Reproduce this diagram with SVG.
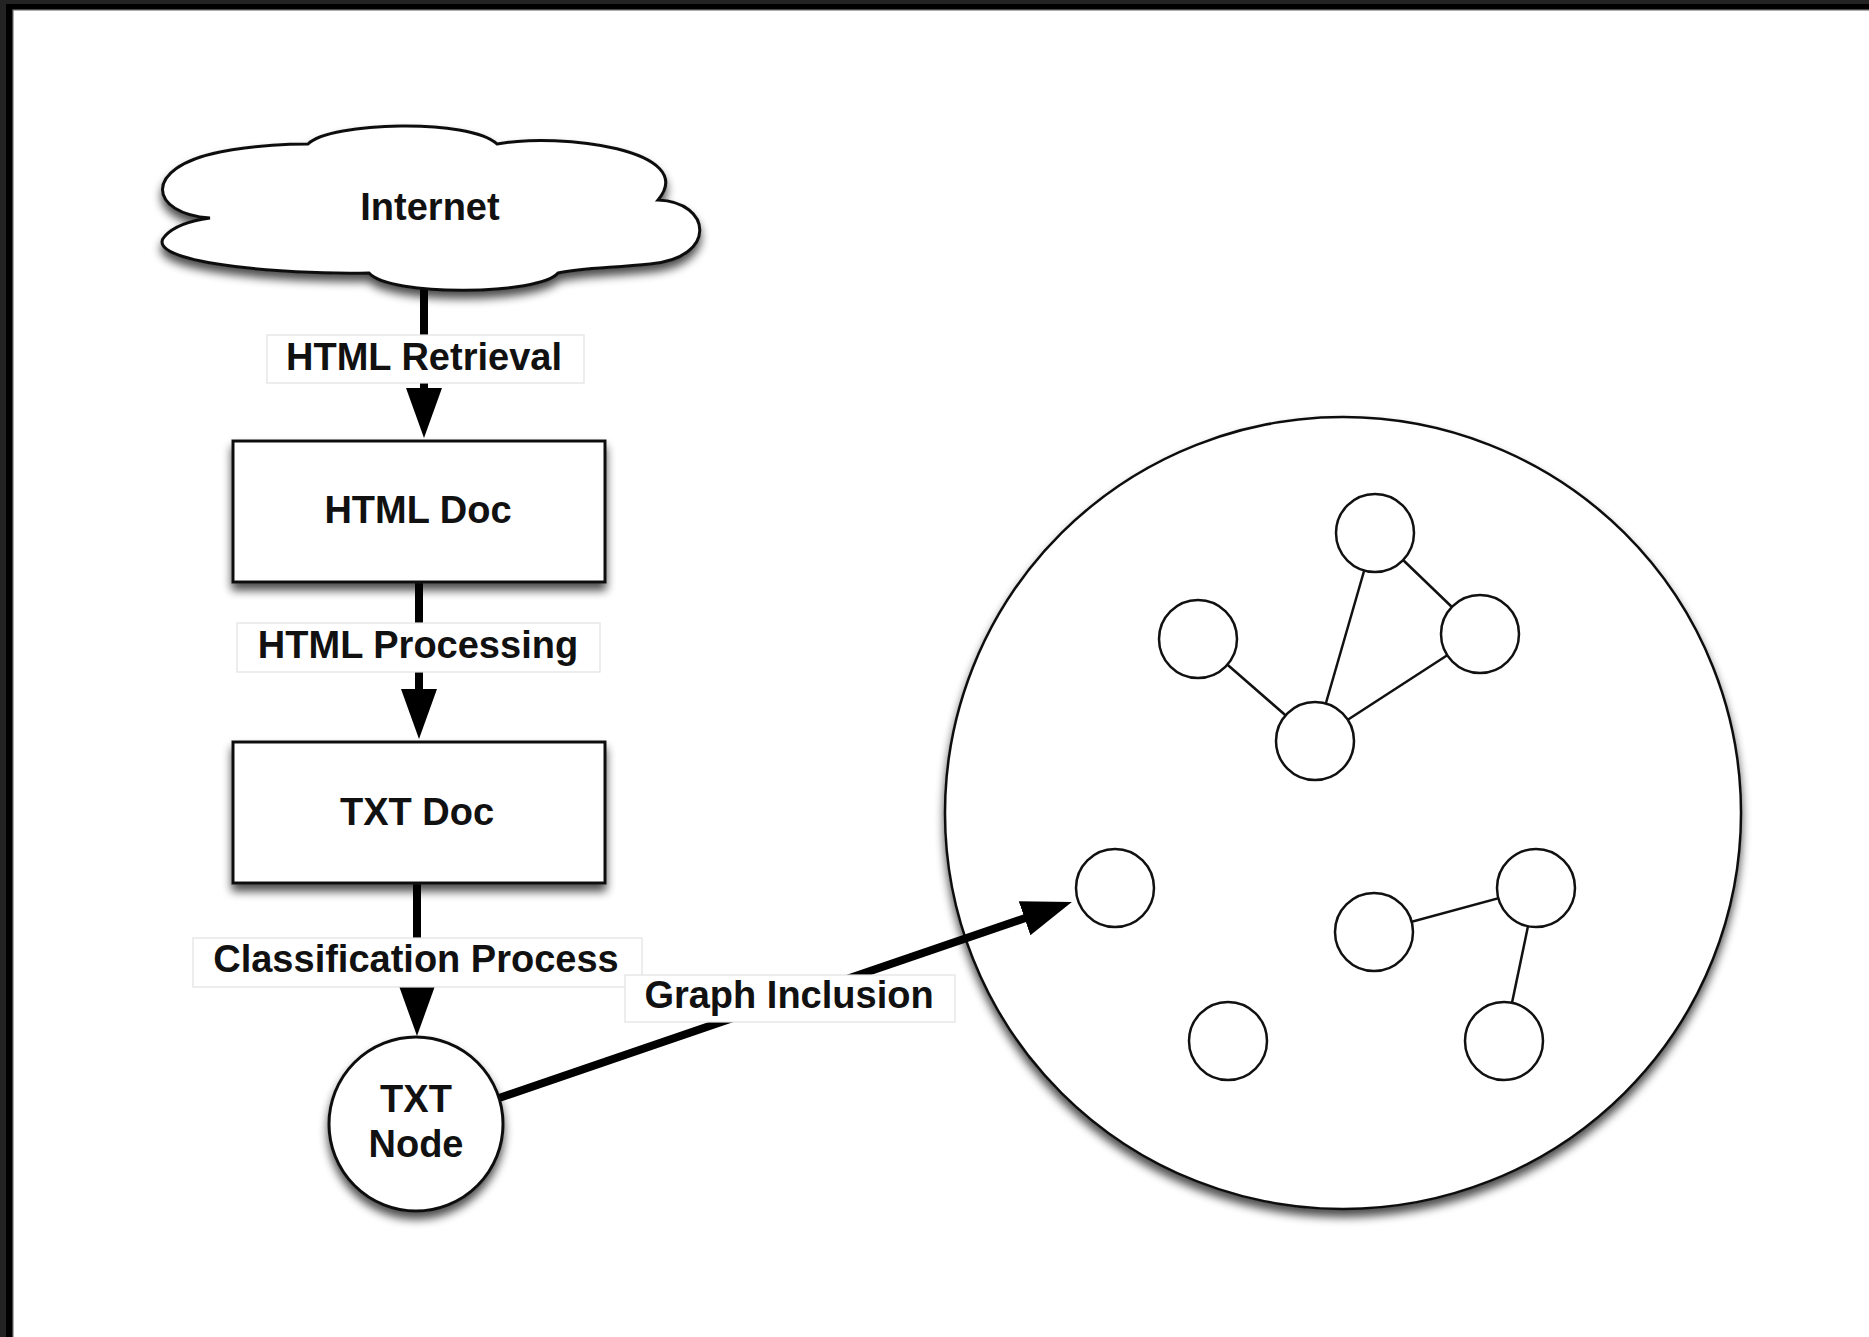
<svg xmlns="http://www.w3.org/2000/svg" width="1869" height="1337" viewBox="0 0 1869 1337">
<defs>
<filter id="sh" x="-20%" y="-20%" width="140%" height="150%">
<feGaussianBlur in="SourceAlpha" stdDeviation="5"/>
<feOffset dx="0" dy="7" result="b"/>
<feComponentTransfer><feFuncA type="linear" slope="0.7"/></feComponentTransfer>
<feMerge><feMergeNode/><feMergeNode in="SourceGraphic"/></feMerge>
</filter>
<marker id="ah" viewBox="0 0 50 36" refX="10" refY="18" markerWidth="50" markerHeight="36" markerUnits="userSpaceOnUse" orient="auto">
<path d="M0 0 L50 18 L0 36 Z" fill="#000"/>
</marker>
</defs>
<style>
.t{font-family:"Liberation Sans",Arial,Helvetica,sans-serif;font-weight:bold;font-size:38px;fill:#111;text-anchor:middle}
.n{fill:#fff;stroke:#111;stroke-width:3}
.s{fill:#fff;stroke:#111;stroke-width:2.5}
.e{stroke:#111;stroke-width:2.5;fill:none}
.c{stroke:#000;stroke-width:8;fill:none}
.lb{fill:#fff;stroke:#e2e2e2;stroke-width:1.2}
</style>
<rect x="0" y="0" width="1869" height="1337" fill="#232323"/>
<rect x="6" y="4" width="1863" height="1333" fill="#000"/>
<rect x="13" y="10" width="1860" height="1330" fill="#fff" stroke="#777" stroke-width="1.2"/>

<g id="graph">
<ellipse cx="1343" cy="813" rx="398" ry="396" class="s" filter="url(#sh)"/>
</g>

<g id="connectors">
<line x1="424" y1="285" x2="424" y2="398" class="c" marker-end="url(#ah)"/>
<line x1="419" y1="582" x2="419" y2="699" class="c" marker-end="url(#ah)"/>
<line x1="417" y1="883" x2="417" y2="996" class="c" marker-end="url(#ah)"/>
<line x1="499" y1="1098" x2="1034" y2="915" class="c" marker-end="url(#ah)"/>
<rect x="267" y="335" width="317" height="48" class="lb"/>
<text x="424" y="370" class="t">HTML Retrieval</text>
<rect x="237" y="623" width="363" height="49" class="lb"/>
<text x="418" y="658" class="t">HTML Processing</text>
<rect x="193" y="938" width="449" height="49" class="lb"/>
<text x="416" y="972" class="t">Classification Process</text>
<rect x="625" y="975" width="330" height="47" class="lb"/>
<text x="789" y="1008" class="t">Graph Inclusion</text>
<line x1="1375" y1="533" x2="1315" y2="741" class="e"/>
<line x1="1375" y1="533" x2="1480" y2="634" class="e"/>
<line x1="1480" y1="634" x2="1315" y2="741" class="e"/>
<line x1="1198" y1="639" x2="1315" y2="741" class="e"/>
<line x1="1374" y1="932" x2="1536" y2="888" class="e"/>
<line x1="1536" y1="888" x2="1504" y2="1041" class="e"/>
</g>

<g id="internet">
<path class="n" filter="url(#sh)" d="M210 218 C150 214 140 168 220 152 C250 146 280 144 308 144 C330 122 470 118 497 144 C560 132 700 150 658 200 C712 202 718 258 650 264 C610 268 580 268 558 273 C540 295 390 297 369 273 C280 275 140 262 165 236 C175 225 195 220 210 218 Z"/>
<text x="430" y="220" class="t">Internet</text>
</g>
<g id="html-doc">
<rect x="233" y="441" width="372" height="141" class="n" filter="url(#sh)"/>
<text x="418" y="523" class="t">HTML Doc</text>
</g>
<g id="txt-doc">
<rect x="233" y="742" width="372" height="141" class="n" filter="url(#sh)"/>
<text x="417" y="825" class="t">TXT Doc</text>
</g>
<g id="txt-node">
<circle cx="416" cy="1124" r="87" class="n" filter="url(#sh)"/>
<text x="416" y="1112" class="t">TXT</text>
<text x="416" y="1157" class="t">Node</text>
</g>
<g id="g1"><circle cx="1375" cy="533" r="39" class="s"/></g>
<g id="g2"><circle cx="1198" cy="639" r="39" class="s"/></g>
<g id="g3"><circle cx="1480" cy="634" r="39" class="s"/></g>
<g id="g4"><circle cx="1315" cy="741" r="39" class="s"/></g>
<g id="g5"><circle cx="1115" cy="888" r="39" class="s"/></g>
<g id="g6"><circle cx="1374" cy="932" r="39" class="s"/></g>
<g id="g7"><circle cx="1536" cy="888" r="39" class="s"/></g>
<g id="g8"><circle cx="1228" cy="1041" r="39" class="s"/></g>
<g id="g9"><circle cx="1504" cy="1041" r="39" class="s"/></g>
</svg>
